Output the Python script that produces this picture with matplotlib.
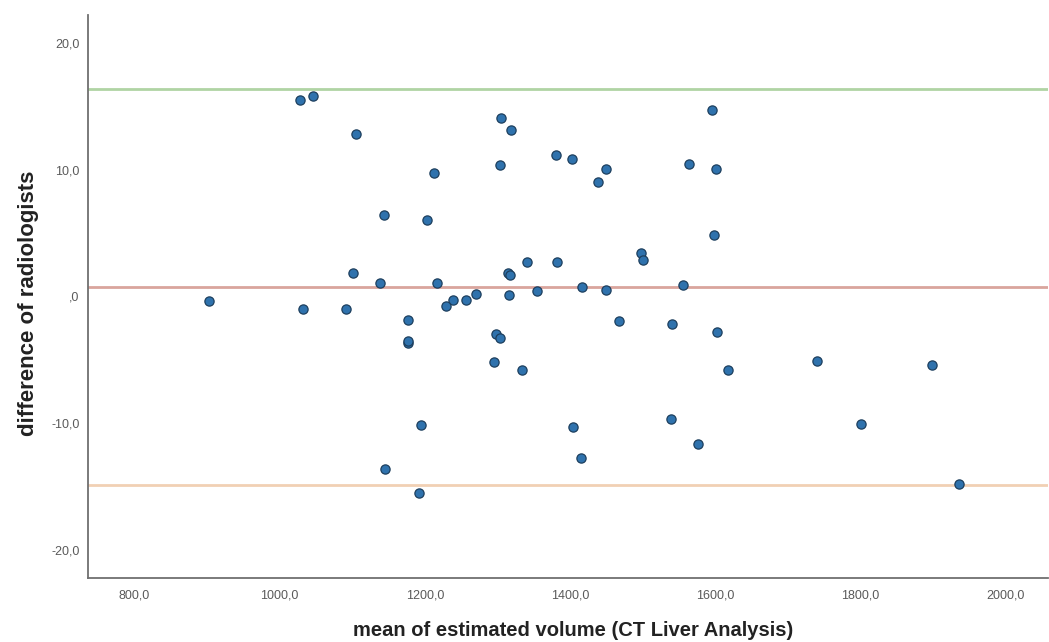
import matplotlib
matplotlib.use("Agg")
import matplotlib.pyplot as plt
from matplotlib.ticker import FuncFormatter

# Bland-Altman data: mean of estimated volume vs difference of radiologists
mean_volume = [902.5, 1027.8, 1046, 1104.8, 1101, 1031.5, 1092, 1304.4, 1318, 1380,
               1403, 1449, 1439, 1563.6, 1212.6, 1303.5, 1143.8, 1203.5, 1340.6, 1382,
               1497.5, 1500.3, 1315, 1317, 1137.9, 1216.3, 1415.9, 1449, 1555.3, 1355,
               1315.4, 1270, 1257.2, 1239.3, 1229.7, 1177.4, 1467.2, 1540.2, 1177.4, 1177,
               1298.5, 1303, 1295.2, 1333.3, 1195.3, 1403.5, 1538.4, 1576, 1144.8, 1415,
               1192, 1594.8, 1601.2, 1598, 1602.6, 1617.8, 1740.7, 1898.5, 1800.3, 1935.2]
difference = [-0.37, 15.5, 15.8, 12.8, 1.87, -0.97, -0.97, 14.04, 13.15, 11.14,
              10.86, 10.04, 9.01, 10.46, 9.72, 10.33, 6.44, 6.02, 2.74, 2.74,
              3.39, 2.84, 1.84, 1.73, 1.05, 1.05, 0.73, 0.55, 0.92, 0.42,
              0.1, 0.21, -0.24, -0.24, -0.79, -1.87, -1.97, -2.15, -3.68, -3.55,
              -2.92, -3.29, -5.18, -5.78, -10.17, -10.28, -9.68, -11.6, -13.59, -12.7,
              -15.48, 14.72, 10.04, 4.87, -2.78, -5.78, -5.1, -5.39, -10.09, -14.77]

upper_loa = 16.4
mean_diff = 0.76
lower_loa = -14.83

x_ticks = [800, 1000, 1200, 1400, 1600, 1800, 2000]
y_ticks = [-20, -10, 0, 10, 20]

plt.rcParams['font.family'] = ['Liberation Sans', 'DejaVu Sans']

fig = plt.figure(figsize=(10.49, 6.42), dpi=100)
ax = fig.add_axes([0.0839, 0.0997, 0.915, 0.877])

ax.axhline(upper_loa, color='#b0d4a4', lw=2.0, zorder=1)
ax.axhline(mean_diff, color='#d9a59d', lw=2.0, zorder=1)
ax.axhline(lower_loa, color='#f1d0b4', lw=2.0, zorder=1)

ax.scatter(mean_volume, difference, s=44, color='#2f72ad', edgecolors='#1d3f5e',
           linewidths=0.9, zorder=3)

ax.set_xlim(736, 2058)
ax.set_ylim(-22.2, 22.2)
ax.set_xticks(x_ticks)
ax.set_yticks(y_ticks)


def comma_fmt(v, pos):
    if v == 0:
        return ',0'
    return f"{v:.1f}".replace('.', ',')


ax.xaxis.set_major_formatter(FuncFormatter(comma_fmt))
ax.yaxis.set_major_formatter(FuncFormatter(comma_fmt))
ax.tick_params(axis='both', length=0, labelsize=9, labelcolor='#5a5a5a')
ax.tick_params(axis='x', pad=8)
ax.tick_params(axis='y', pad=6)

for side in ['top', 'right']:
    ax.spines[side].set_visible(False)
for side in ['left', 'bottom']:
    ax.spines[side].set_color('#707070')
    ax.spines[side].set_linewidth(1.3)

ax.set_xlabel('mean of estimated volume (CT Liver Analysis)', fontsize=14.5,
              fontweight='bold', color='#222222', labelpad=14)
ax.set_ylabel('difference of radiologists', fontsize=16,
              fontweight='bold', color='#222222', labelpad=9)
ax.xaxis.label.set_x(0.505)
ax.yaxis.label.set_y(0.487)

fig.savefig('out.png', dpi=100)
